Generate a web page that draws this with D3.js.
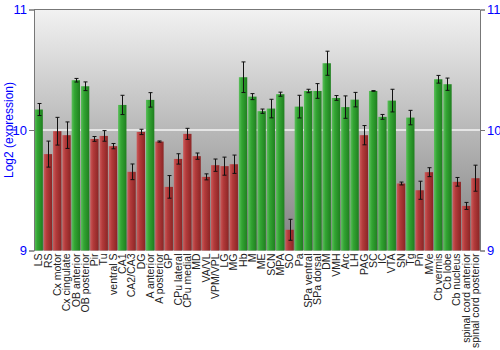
<!DOCTYPE html>
<html><head><meta charset="utf-8">
<script src="https://cdn.jsdelivr.net/npm/d3@7"></script>
<style>body{margin:0;background:#fff}svg{display:block}</style>
</head><body>
<script>
const categories = ["LS","RS","Cx motor","Cx cingulate","OB anterior","OB posterior","Pir","Tu","ventral S","CA1","CA2/CA3","DG","A anterior","A posterior","GP","CPu lateral","CPu medial","MD","VA/VL","VPM/VPL","LG","MG","Hb","M","ME","SCN","MPA","SO","Pa","SPa ventral","SPa dorsal","DM","VMH","Arc","LH","PAG","SC","IC","VTA","SN","Tg","Pn","MVe","Cb vermis","Cb lobe","Cb nucleus","spinal cord anterior","spinal cord posterior"];
const values = [10.17,9.80,9.99,9.957,10.413,10.363,9.926,9.951,9.866,10.208,9.653,9.984,10.25,9.904,9.528,9.76,9.968,9.783,9.611,9.708,9.70,9.716,10.438,10.277,10.156,10.178,10.297,9.172,10.194,10.324,10.324,10.554,10.266,10.19,10.252,9.957,10.324,10.109,10.244,9.556,10.103,9.50,9.65,10.421,10.38,9.57,9.37,9.60];
const errors = [0.05,0.108,0.115,0.11,0.015,0.036,0.02,0.044,0.022,0.08,0.065,0.022,0.06,0.005,0.094,0.043,0.046,0.026,0.025,0.051,0.075,0.076,0.127,0.025,0.018,0.077,0.017,0.087,0.094,0.014,0.061,0.1,0.02,0.093,0.06,0.08,0.003,0.02,0.094,0.012,0.06,0.075,0.037,0.032,0.051,0.036,0.029,0.108];
const yTicks = [9,10,11];
const yTitle = "Log2 (expression)";

const W=500,H=350;
const m={l:34,r:20,t:9.5,b:99.5};
const svg=d3.select("body").append("svg").attr("width",W).attr("height",H);
const defs=svg.append("defs");
const bg=defs.append("linearGradient").attr("id","bg").attr("x1",0).attr("y1",0).attr("x2",0).attr("y2",1);
bg.append("stop").attr("offset","0%").attr("stop-color","#f2f2f2");
bg.append("stop").attr("offset","50%").attr("stop-color","#b8b8b8");
bg.append("stop").attr("offset","100%").attr("stop-color","#808080");
function barGrad(id,c1,c2,c3){
  const g=defs.append("linearGradient").attr("id",id).attr("x1",0).attr("y1",0).attr("x2",1).attr("y2",0);
  g.append("stop").attr("offset","0%").attr("stop-color",c1);
  g.append("stop").attr("offset","35%").attr("stop-color",c2);
  g.append("stop").attr("offset","100%").attr("stop-color",c3);
}
barGrad("gG","#5cbf5c","#33a533","#1f7f1f");
barGrad("gR","#cc5a5a","#b33b3b","#8c2525");

const x=d3.scaleBand().domain(categories).range([m.l,W-m.r]).paddingInner(0.1).paddingOuter(0.05);
const y=d3.scaleLinear().domain([9,11]).range([H-m.b,m.t]);

svg.append("rect").attr("x",m.l).attr("y",m.t).attr("width",W-m.r-m.l).attr("height",H-m.b-m.t).attr("fill","url(#bg)");
svg.append("line").attr("x1",m.l).attr("x2",W-m.r).attr("y1",y(10)).attr("y2",y(10)).attr("stroke","#f4f4f4").attr("stroke-width",1.5);

const data=categories.map((c,i)=>({c,v:values[i],e:errors[i]}));
svg.append("g").selectAll("rect").data(data).join("rect")
  .attr("x",d=>x(d.c)).attr("width",x.bandwidth())
  .attr("y",d=>y(d.v)).attr("height",d=>y(9)-y(d.v))
  .attr("fill",d=>d.v>=10?"url(#gG)":"url(#gR)");

const eg=svg.append("g").attr("stroke","#111").attr("stroke-width",1);
data.forEach(d=>{
  const cx=Math.round(x(d.c)+x.bandwidth()/2)+0.5;
  eg.append("line").attr("x1",cx).attr("x2",cx).attr("y1",y(d.v+d.e)).attr("y2",y(d.v-d.e));
  eg.append("line").attr("x1",cx-2).attr("x2",cx+2).attr("y1",y(d.v+d.e)).attr("y2",y(d.v+d.e));
  eg.append("line").attr("x1",cx-2).attr("x2",cx+2).attr("y1",y(d.v-d.e)).attr("y2",y(d.v-d.e));
});

// frame
svg.append("line").attr("x1",m.l).attr("x2",W-m.r).attr("y1",m.t).attr("y2",m.t).attr("stroke","#777");
const la=svg.append("g").attr("transform",`translate(${m.l},0)`).call(d3.axisLeft(y).tickValues(yTicks).tickFormat(d3.format("d")).tickSize(5).tickPadding(2));
const ra=svg.append("g").attr("transform",`translate(${W-m.r},0)`).call(d3.axisRight(y).tickValues(yTicks).tickFormat(d3.format("d")).tickSize(5).tickPadding(2));
[la,ra].forEach(a=>{
  a.select(".domain").attr("stroke","#777");
  a.selectAll(".tick line").attr("stroke","#777");
  a.selectAll("text").attr("fill","#0000ff").style("font-family","Liberation Sans, Arial, sans-serif").style("font-size","13px");
});

svg.append("text").attr("transform",`translate(13,${(m.t+H-m.b)/2}) rotate(-90)`).attr("text-anchor","middle")
  .attr("fill","#0000ff").style("font-family","Liberation Sans, Arial, sans-serif").style("font-size","12px").text(yTitle);

svg.append("g").selectAll("text").data(categories).join("text")
  .attr("transform",d=>`translate(${x(d)+x.bandwidth()/2+3.7},${H-m.b+3}) rotate(-90)`)
  .attr("text-anchor","end").attr("fill","#222")
  .style("font-family","Liberation Sans, Arial, sans-serif").style("font-size","10.5px").text(d=>d);
</script>
</body></html>
